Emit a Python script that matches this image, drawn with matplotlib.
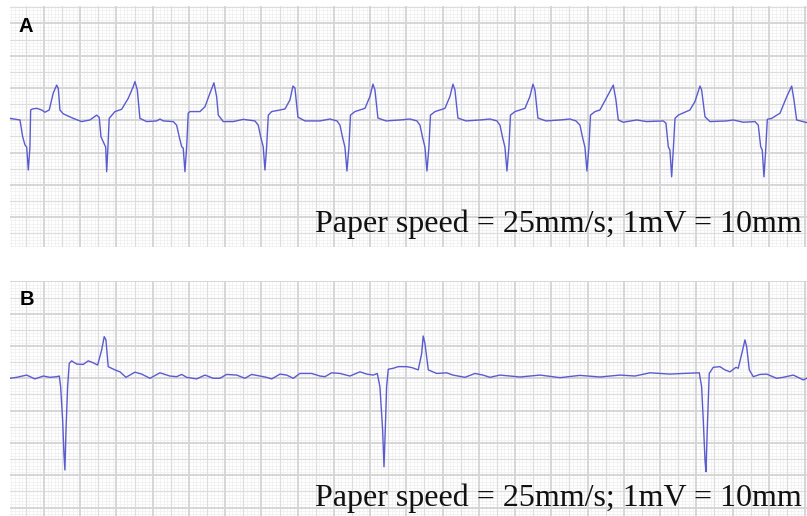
import numpy as np
import matplotlib
matplotlib.use("Agg")
import matplotlib.pyplot as plt

# ---- Panel A trace: time (s), voltage (mV) ----
a_time = [0.025, 0.135, 0.165, 0.190, 0.209, 0.227, 0.245, 0.253, 0.271, 0.319, 0.374, 0.411, 0.458,
          0.502, 0.540, 0.558, 0.576, 0.613, 0.723, 0.816, 0.907, 0.981, 1.010, 1.029, 1.054, 1.081,
          1.092, 1.106, 1.120, 1.183, 1.257, 1.330, 1.385, 1.404, 1.430, 1.459, 1.533, 1.644, 1.680,
          1.717, 1.827, 1.864, 1.893, 1.920, 1.937, 1.956, 1.975, 1.992, 2.011, 2.122, 2.177, 2.232,
          2.276, 2.306, 2.324, 2.379, 2.489, 2.600, 2.729, 2.765, 2.792, 2.820, 2.839, 2.858, 2.876,
          2.913, 3.060, 3.115, 3.148, 3.170, 3.203, 3.281, 3.446, 3.557, 3.634, 3.667, 3.695, 3.722,
          3.744, 3.766, 3.783, 3.832, 3.943, 3.998, 4.031, 4.053, 4.086, 4.175, 4.329, 4.440, 4.517,
          4.550, 4.578, 4.605, 4.627, 4.649, 4.666, 4.716, 4.826, 4.881, 4.914, 4.936, 4.969, 5.058,
          5.212, 5.323, 5.400, 5.433, 5.461, 5.488, 5.510, 5.532, 5.549, 5.599, 5.709, 5.764, 5.797,
          5.819, 5.852, 5.941, 6.095, 6.206, 6.272, 6.316, 6.344, 6.371, 6.393, 6.415, 6.432, 6.482,
          6.537, 6.684, 6.713, 6.739, 6.794, 6.942, 7.052, 7.236, 7.265, 7.291, 7.309, 7.328, 7.346,
          7.365, 7.401, 7.530, 7.585, 7.641, 7.659, 7.696, 7.751, 7.935, 8.008, 8.119, 8.248, 8.284,
          8.311, 8.328, 8.347, 8.366, 8.384, 8.432, 8.524, 8.598, 8.653, 8.678, 8.708, 8.818]
a_mv = [0.06, 0.01, -0.51, -0.76, -0.83, -1.54, -0.83, 0.32, 0.35, 0.37, 0.32, 0.25, 0.32,
        0.84, 1.09, 0.99, 0.32, 0.20, 0.06, -0.04, 0.01, 0.16, 0.09, -0.51, -0.66, -0.83,
        -1.59, -0.83, 0.06, 0.27, 0.34, 0.68, 1.04, 1.20, 0.94, 0.06, -0.04, -0.02, 0.04,
        -0.02, -0.04, -0.15, -0.51, -0.82, -0.86, -1.59, -0.83, 0.22, 0.27, 0.27, 0.42, 0.84,
        1.16, 0.73, 0.16, -0.04, -0.04, 0.03, -0.02, -0.15, -0.51, -0.82, -1.54, -0.82, 0.16,
        0.27, 0.35, 0.63, 1.06, 1.00, 0.10, -0.02, -0.02, 0.04, -0.02, -0.15, -0.52, -0.83,
        -1.57, -0.83, 0.16, 0.27, 0.37, 0.74, 1.12, 0.94, 0.07, -0.02, 0.01, 0.04, -0.02,
        -0.15, -0.52, -0.83, -1.57, -0.83, 0.16, 0.27, 0.37, 0.74, 1.12, 0.94, 0.07, -0.02,
        0.01, 0.04, -0.02, -0.15, -0.52, -0.83, -1.57, -0.83, 0.16, 0.27, 0.37, 0.74, 1.12,
        0.94, 0.07, -0.02, 0.01, 0.04, -0.02, -0.15, -0.52, -0.83, -1.57, -0.83, 0.16, 0.27,
        0.32, 1.09, 0.63, 0.01, -0.06, 0.01, -0.04, -0.02, -0.09, -0.82, -0.92, -1.75, -0.92,
        0.06, 0.16, 0.32, 0.58, 1.06, 0.94, 0.11, -0.04, -0.02, 0.01, -0.06, -0.04, -0.15,
        -0.82, -0.92, -1.75, -0.92, 0.03, 0.06, 0.22, 0.73, 1.06, 0.63, 0.01, -0.07]

# ---- Panel B trace: time (s), voltage (mV) ----
b_time = [0.025, 0.099, 0.209, 0.300, 0.392, 0.466, 0.540, 0.569, 0.584, 0.606, 0.620, 0.631, 0.643,
          0.661, 0.679, 0.705, 0.761, 0.833, 0.889, 0.944, 0.992, 1.037, 1.065, 1.084, 1.109, 1.183,
          1.239, 1.305, 1.404, 1.478, 1.570, 1.680, 1.790, 1.864, 1.920, 1.975, 2.085, 2.177, 2.268,
          2.342, 2.416, 2.527, 2.618, 2.692, 2.784, 2.858, 2.913, 3.005, 3.079, 3.151, 3.225, 3.355,
          3.446, 3.501, 3.575, 3.667, 3.777, 3.888, 3.962, 4.034, 4.079, 4.108, 4.138, 4.153, 4.167,
          4.182, 4.200, 4.255, 4.310, 4.403, 4.462, 4.531, 4.569, 4.586, 4.605, 4.642, 4.734, 4.845,
          4.914, 5.047, 5.157, 5.245, 5.323, 5.433, 5.654, 5.875, 6.095, 6.316, 6.537, 6.758, 6.923,
          7.089, 7.309, 7.456, 7.633, 7.659, 7.677, 7.696, 7.707, 7.721, 7.743, 7.787, 7.861, 7.916,
          7.972, 8.038, 8.063, 8.112, 8.137, 8.156, 8.185, 8.229, 8.303, 8.377, 8.487, 8.557, 8.671,
          8.781, 8.818]
b_mv = [0.00, 0.03, 0.10, -0.02, 0.07, 0.03, 0.05, 0.07, -0.26, -1.29, -2.32, -2.84, -1.60,
        -0.26, 0.46, 0.54, 0.44, 0.43, 0.54, 0.48, 0.41, 0.88, 1.29, 1.19, 0.36, 0.26,
        0.20, 0.03, 0.19, 0.13, 0.00, 0.17, 0.07, 0.05, 0.12, 0.03, -0.02, 0.10, 0.00,
        0.00, 0.12, 0.10, 0.00, 0.12, 0.07, 0.03, -0.02, 0.13, 0.10, 0.00, 0.15, 0.15,
        0.07, 0.05, 0.17, 0.15, 0.07, 0.20, 0.13, 0.10, 0.15, -0.26, -1.60, -2.74, -1.60,
        -0.26, 0.28, 0.31, 0.36, 0.36, 0.33, 0.26, 0.77, 1.31, 1.08, 0.26, 0.15, 0.17,
        0.10, 0.03, 0.15, 0.10, 0.03, 0.10, 0.04, 0.10, 0.02, 0.09, 0.04, 0.10, 0.07,
        0.17, 0.13, 0.15, 0.17, -0.26, -1.29, -2.53, -2.89, -1.60, 0.15, 0.34, 0.36, 0.26,
        0.20, 0.34, 0.31, 0.88, 1.19, 0.98, 0.26, 0.05, 0.12, 0.13, 0.00, 0.03, 0.10,
        -0.05, 0.00]

panel_labels = ["A", "B"]
caption = "Paper speed = 25mm/s; 1mV = 10mm"

W, H = 807, 516
fig = plt.figure(figsize=(W / 100, H / 100), dpi=100)
fig.patch.set_facecolor("white")

def fy(py):
    return 1 - py / H

XLIM = (0.025, 8.822)
axA = fig.add_axes([10 / W, fy(247), 1 - 10 / W, (247 - 6) / H])
axB = fig.add_axes([10 / W, fy(516), 1 - 10 / W, (516 - 281) / H])

def ecg_grid(ax, ylim):
    ax.set_xlim(*XLIM)
    ax.set_ylim(*ylim)
    ax.set_axis_off()
    ax.add_artist(plt.Rectangle((0, 0), 1, 1, transform=ax.transAxes,
                                facecolor="white", edgecolor="none", zorder=0))
    xs = np.arange(0, 9.0001, 0.04)
    ys = np.arange(-5, 5.0001, 0.1)
    styles = {0: ("#d5d5d5", 1.35, 3), 1: ("#dddddd", 0.85, 2), 2: ("#f0f0f0", 0.55, 1)}
    for x in xs:
        k = int(round(x / 0.04))
        lev = 0 if k % 10 == 0 else (1 if k % 5 == 0 else 2)
        c, lw, z = styles[lev]
        ax.axvline(x, color=c, lw=lw, zorder=z)
    for y in ys:
        k = int(round(y / 0.1))
        lev = 0 if k % 10 == 0 else (1 if k % 5 == 0 else 2)
        c, lw, z = styles[lev]
        ax.axhline(y, color=c, lw=lw, zorder=z)

ecg_grid(axA, (-3.923, 3.539))
ecg_grid(axB, (-4.263, 3.012))

trace_color = "#5b5bd0"
axA.plot(a_time, a_mv, color=trace_color, lw=1.0, zorder=5, solid_joinstyle="round")
axB.plot(b_time, b_mv, color=trace_color, lw=1.0, zorder=5, solid_joinstyle="round")

for lab, px, pyb in zip(panel_labels, [18.5, 19.5], [32.5, 305]):
    fig.text(px / W, fy(pyb), lab, ha="left", va="baseline",
             fontfamily="Liberation Sans", fontweight="bold", fontsize=14.5, color="black")

for pyb in [232, 506]:
    fig.text(802 / W, fy(pyb), caption, ha="right", va="baseline",
             fontfamily="Liberation Serif", fontsize=23, color="#111111")

fig.savefig("out.png", dpi=100, facecolor="white")
